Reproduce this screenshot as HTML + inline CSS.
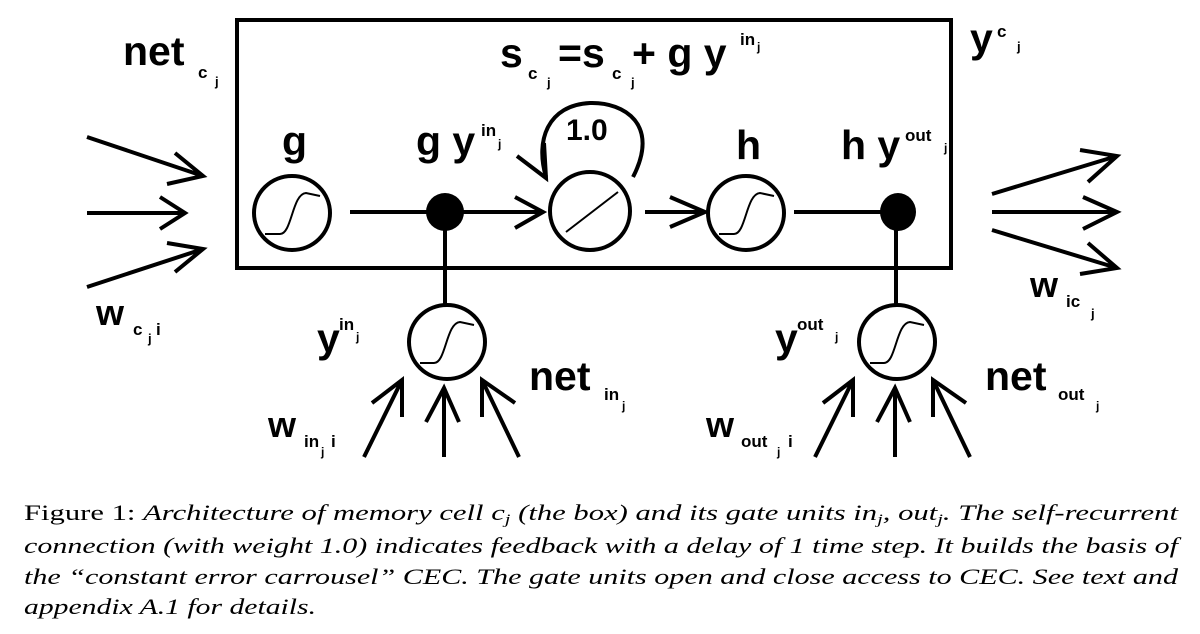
<!DOCTYPE html>
<html><head><meta charset="utf-8"><style>
html,body{margin:0;padding:0;background:#fff;}
svg{display:block;}
.b{font-family:"Liberation Sans",sans-serif;font-weight:bold;fill:#000;}
.s{font-family:"Liberation Sans",sans-serif;font-weight:bold;fill:#000;}
.cap{font-family:"Liberation Serif",serif;font-size:22.5px;fill:#000;}
</style></head><body>
<svg width="1200" height="634" viewBox="0 0 1200 634" xmlns="http://www.w3.org/2000/svg">
<g fill="none" stroke="#000" stroke-width="4">
<rect x="237" y="20" width="714" height="248"/>
<!-- left arrows -->
<path d="M87,137 L203,176 M175,153 L203,176 L167,184"/>
<path d="M87,213 L185,213 M160,197 L185,213 L160,229"/>
<path d="M87,287 L203,249 M167,243 L203,249 L175,272"/>
<!-- right arrows -->
<path d="M992,194 L1117,156 M1080,150 L1117,156 L1088,182"/>
<path d="M992,212 L1117,212 M1083,197 L1117,212 L1083,229"/>
<path d="M992,230 L1117,268 M1088,243 L1117,268 L1080,274"/>
<!-- circles -->
<ellipse cx="292" cy="213" rx="38" ry="37"/>
<ellipse cx="590" cy="211" rx="40" ry="39"/>
<ellipse cx="746" cy="213" rx="38" ry="37"/>
<ellipse cx="447" cy="342" rx="38" ry="37"/>
<ellipse cx="897" cy="342" rx="38" ry="37"/>
<!-- lines -->
<path d="M350,212 L543,212 M515,197 L543,212 L515,228"/>
<path d="M645,212 L705,212 M670,197 L705,212 L670,227"/>
<path d="M794,212 L898,212"/>
<path d="M445,212 L445,305"/>
<path d="M896,212 L896,305"/>
<!-- self loop -->
<path d="M633,177 C660,125 625,102 590,103 C548,105 535,140 546,177"/>
<path d="M517,156 L546,178 L544,143"/>
<!-- bottom arrows input -->
<path d="M364,457 L402,380 M372,403 L402,380 L402,417"/>
<path d="M444,457 L444,388 M426,422 L444,388 L459,422"/>
<path d="M519,457 L482,380 M515,403 L482,380 L482,417"/>
<!-- bottom arrows output -->
<path d="M815,457 L853,380 M823,403 L853,380 L853,417"/>
<path d="M895,457 L895,388 M877,422 L895,388 L910,422"/>
<path d="M970,457 L933,380 M966,403 L933,380 L933,417"/>
</g>
<g fill="#000" stroke="none">
<ellipse cx="445" cy="212" rx="19" ry="19"/>
<ellipse cx="898" cy="212" rx="18" ry="19"/>
</g>
<g fill="none" stroke="#000" stroke-width="2">
<path d="M265,234 L280,234 C292,234 292,194 306,193 L320,196"/>
<path d="M719,234 L734,234 C746,234 746,194 760,193 L774,196"/>
<path d="M420,363 L434,363 C446,363 446,323 460,322 L474,325"/>
<path d="M870,363 L884,363 C896,363 896,323 910,322 L924,325"/>
<path d="M566,232 L618,192"/>
</g>
<!-- labels -->
<text class="b" x="123" y="65" font-size="41">net</text>
<text class="s" x="198" y="78" font-size="17">c</text>
<text class="s" x="215" y="86" font-size="13">j</text>
<text class="b" x="500" y="67" font-size="41">s</text>
<text class="s" x="528" y="79" font-size="17">c</text>
<text class="s" x="547" y="87" font-size="13">j</text>
<text class="b" x="558" y="67" font-size="41">=s</text>
<text class="s" x="612" y="79" font-size="17">c</text>
<text class="s" x="631" y="87" font-size="13">j</text>
<text class="b" x="632" y="67" font-size="41">+ g y</text>
<text class="s" x="740" y="45" font-size="17">in</text>
<text class="s" x="757" y="51" font-size="12">j</text>
<text class="b" x="970" y="52" font-size="41">y</text>
<text class="s" x="997" y="37" font-size="17">c</text>
<text class="s" x="1017" y="51" font-size="13">j</text>
<text class="b" x="282" y="155" font-size="41">g</text>
<text class="b" x="416" y="155" font-size="41">g y</text>
<text class="s" x="481" y="136" font-size="17">in</text>
<text class="s" x="498" y="148" font-size="12">j</text>
<text class="b" x="566" y="140" font-size="30">1.0</text>
<text class="b" x="736" y="159" font-size="41">h</text>
<text class="b" x="841" y="159" font-size="41">h y</text>
<text class="s" x="905" y="141" font-size="17">out</text>
<text class="s" x="944" y="152" font-size="12">j</text>
<text class="b" x="96" y="325" font-size="36">w</text>
<text class="s" x="133" y="335" font-size="17">c</text>
<text class="s" x="148" y="343" font-size="13">j</text>
<text class="s" x="156" y="335" font-size="17">i</text>
<text class="b" x="1030" y="297" font-size="36">w</text>
<text class="s" x="1066" y="307" font-size="17">ic</text>
<text class="s" x="1091" y="318" font-size="13">j</text>
<text class="b" x="317" y="352" font-size="41">y</text>
<text class="s" x="339" y="330" font-size="17">in</text>
<text class="s" x="356" y="341" font-size="12">j</text>
<text class="b" x="775" y="352" font-size="41">y</text>
<text class="s" x="797" y="330" font-size="17">out</text>
<text class="s" x="835" y="341" font-size="12">j</text>
<text class="b" x="529" y="390" font-size="41">net</text>
<text class="s" x="604" y="400" font-size="17">in</text>
<text class="s" x="622" y="410" font-size="12">j</text>
<text class="b" x="985" y="390" font-size="41">net</text>
<text class="s" x="1058" y="400" font-size="17">out</text>
<text class="s" x="1096" y="410" font-size="12">j</text>
<text class="b" x="268" y="437" font-size="36">w</text>
<text class="s" x="304" y="447" font-size="17">in</text>
<text class="s" x="321" y="456" font-size="12">j</text>
<text class="s" x="331" y="447" font-size="17">i</text>
<text class="b" x="706" y="437" font-size="36">w</text>
<text class="s" x="741" y="447" font-size="17">out</text>
<text class="s" x="777" y="456" font-size="12">j</text>
<text class="s" x="788" y="447" font-size="17">i</text>
<!-- caption -->
<text class="cap" x="24" y="520" textLength="1154" lengthAdjust="spacingAndGlyphs">Figure 1: <tspan font-style="italic">Architecture of memory cell c<tspan font-size="15" dy="4">j</tspan><tspan dy="-4"> (the box) and its gate units in</tspan><tspan font-size="15" dy="4">j</tspan><tspan dy="-4">, out</tspan><tspan font-size="15" dy="4">j</tspan><tspan dy="-4">. The self-recurrent</tspan></tspan></text>
<text class="cap" x="24" y="553" font-style="italic" textLength="1154" lengthAdjust="spacingAndGlyphs">connection (with weight 1.0) indicates feedback with a delay of 1 time step. It builds the basis of</text>
<text class="cap" x="24" y="584" font-style="italic" textLength="1154" lengthAdjust="spacingAndGlyphs">the “constant error carrousel” CEC. The gate units open and close access to CEC. See text and</text>
<text class="cap" x="24" y="614" font-style="italic" textLength="292" lengthAdjust="spacingAndGlyphs">appendix A.1 for details.</text>
</svg>
</body></html>
